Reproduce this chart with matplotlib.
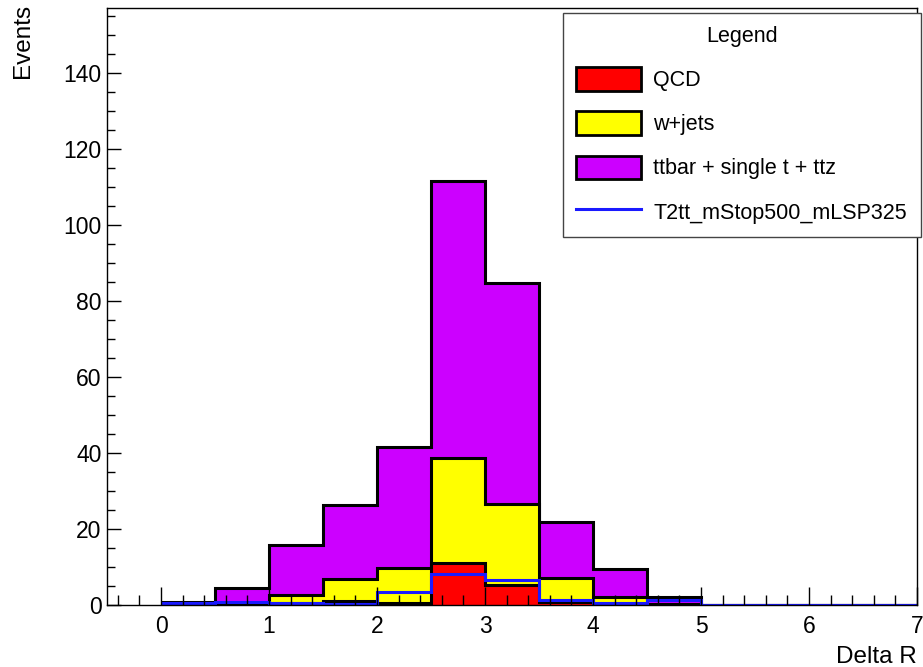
import numpy as np
import matplotlib
matplotlib.use('Agg')
import matplotlib.pyplot as plt
from matplotlib.patches import Patch
from matplotlib.lines import Line2D
from matplotlib.ticker import MultipleLocator

plt.rcParams['font.family'] = ['Liberation Sans', 'DejaVu Sans']

# Delta R binning (0.5 wide bins from 0 to 7)
bin_edges = np.linspace(0, 7, 15)

qcd    = [0.0, 0.0, 0.5, 1.0, 0.5, 11.0, 5.3, 0.8, 0.3, 0.0, 0, 0, 0, 0]
wjets  = [0.3, 0.5, 2.1, 5.8, 9.2, 27.7, 21.3, 6.3, 1.9, 0.3, 0, 0, 0, 0]
ttbar  = [0.5, 4.0, 13.2, 19.5, 31.9, 72.9, 58.1, 14.7, 7.3, 1.7, 0, 0, 0, 0]
signal = [0.6, 0.8, 0.4, 0.2, 3.5, 8.1, 6.5, 1.3, 0.4, 1.2, 0, 0, 0, 0]

labels = ['QCD', 'w+jets', 'ttbar + single t + ttz', 'T2tt_mStop500_mLSP325']
colors = ['#ff0000', '#ffff00', '#cc00ff']
signal_color = '#1a1aff'

fig = plt.figure(figsize=(9.23, 6.67), dpi=100)
ax = fig.add_axes([107/923, 62/667, 810/923, 597/667])

# stacked: draw the cumulative sums from the top down
stack1 = np.array(qcd)
stack2 = stack1 + np.array(wjets)
stack3 = stack2 + np.array(ttbar)
for vals, col in [(stack3, colors[2]), (stack2, colors[1]), (stack1, colors[0])]:
    ax.stairs(vals, bin_edges, fill=True, facecolor=col, edgecolor='none', baseline=0)
    ax.stairs(vals, bin_edges, color='black', lw=2.2, baseline=None)
ax.stairs(signal, bin_edges, color=signal_color, lw=2.2, baseline=None)

ax.set_xlim(-0.5, 7)
ax.set_ylim(0, 157)

ax.xaxis.set_major_locator(MultipleLocator(1))
ax.xaxis.set_minor_locator(MultipleLocator(0.2))
ax.yaxis.set_major_locator(MultipleLocator(20))
ax.yaxis.set_minor_locator(MultipleLocator(5))
ax.tick_params(axis='x', which='major', direction='in', length=13, width=1, labelsize=16.5, pad=7)
ax.tick_params(axis='x', which='minor', direction='in', length=7, width=1)
ax.tick_params(axis='y', which='major', direction='in', length=10, width=1, labelsize=16.5, pad=4)
ax.tick_params(axis='y', which='minor', direction='in', length=5.5, width=1)
for s in ax.spines.values():
    s.set_linewidth(1)

fig.text(23/923, 1 - 4/667, 'Events', rotation=90, ha='center', va='top', fontsize=17.5)
fig.text(917/923, 1 - 657/667, 'Delta R', ha='right', va='center', fontsize=17.5)

handles = [Patch(facecolor=c, edgecolor='black', lw=2) for c in colors]
handles.append(Line2D([], [], color=signal_color, lw=2.2))
leg_top = 1 - 13/667
leg = fig.legend(handles, labels, title='Legend', loc='upper left',
                 bbox_to_anchor=(563/923, leg_top - 0.01, 358/923, 0.01), mode='expand',
                 fontsize=15.5, title_fontsize=15.5, handlelength=3.0, handleheight=1.3,
                 labelspacing=0.94, handletextpad=0.6, borderpad=0.6, borderaxespad=0,
                 fancybox=False, edgecolor='#444444', framealpha=1, alignment='center')
leg.get_frame().set_linewidth(1)

fig.savefig('out.png', dpi=100)
